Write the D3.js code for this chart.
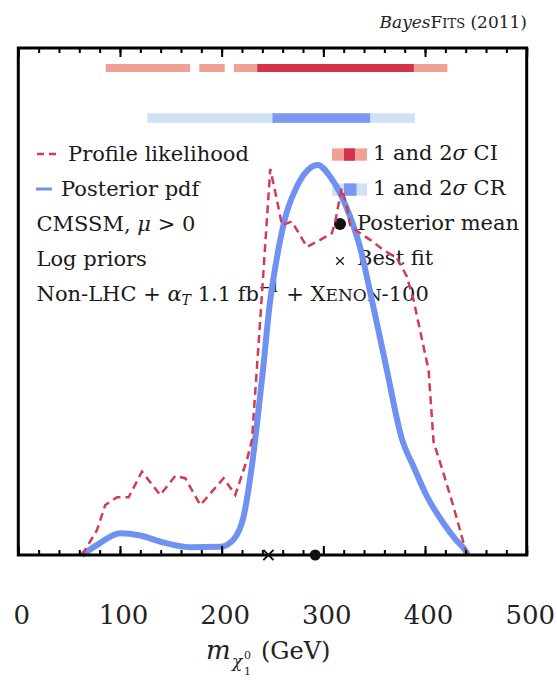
<!DOCTYPE html>
<html>
<head>
<meta charset="utf-8">
<script src="https://cdn.jsdelivr.net/npm/d3@7"></script>
<style>
  html, body { margin: 0; padding: 0; background: #fff; }
  svg { display: block; font-family: "DejaVu Serif", serif; }
</style>
</head>
<body>
<svg id="chart" width="557" height="684"></svg>
<script>
// Neutralino mass: posterior pdf and profile likelihood (CMSSM, log priors)
const xMajorTicks = [0, 100, 200, 300, 400, 500];
const xMinorTicks = d3.range(0, 501, 20);

// Posterior pdf (solid blue), normalised to its peak
const pdfMass = [62.6, 80, 100, 120, 140, 169, 198.6, 211.7, 221.5, 229.8, 234.5, 240.6, 247.8, 251, 257, 262.5, 272.4, 282, 294.3, 306.8, 316.6, 326.4, 336, 346, 362, 377, 389, 402, 418, 430, 440, 442];
const pdfValue = [0, 0.03, 0.056, 0.05, 0.034, 0.02, 0.021, 0.04, 0.098, 0.23, 0.33, 0.474, 0.654, 0.71, 0.8, 0.865, 0.936, 0.979, 1.0, 0.97, 0.927, 0.867, 0.79, 0.675, 0.48, 0.3, 0.225, 0.15, 0.082, 0.04, 0.01, 0];

// Profile likelihood (dashed red), normalised to its peak
const plMass = [62.6, 77.4, 85.5, 97, 108.5, 121.6, 139.6, 154.4, 164.2, 179, 201.9, 213.4, 224.9, 229.8, 239, 247.8, 254.4, 259.3, 269.1, 283.9, 296.9, 308.4, 311.7, 318, 323.2, 326.5, 336.3, 346.1, 359.2, 372.4, 382.2, 388.7, 403.5, 408.4, 418.2, 428, 441.2];
const plValue = [0, 0.064, 0.128, 0.148, 0.148, 0.214, 0.154, 0.203, 0.197, 0.128, 0.197, 0.154, 0.244, 0.295, 0.645, 0.99, 0.91, 0.846, 0.855, 0.79, 0.808, 0.825, 0.855, 0.94, 0.893, 0.842, 0.825, 0.808, 0.782, 0.761, 0.714, 0.654, 0.474, 0.29, 0.209, 0.124, 0];

// 1 and 2 sigma intervals (GeV)
const ci2Sigma = [[86, 169], [178, 203], [212, 422]];
const ci1Sigma = [[235, 389]];
const cr2Sigma = [[127, 390]];
const cr1Sigma = [[250, 346]];

// Point estimates (GeV)
const posteriorMean = 292;
const bestFit = 246;

const colors = {
  plLine: "#d43a50",
  pdfLine: "#6f92f2",
  ciLight: "#f0a196",
  ciDark: "#d1334b",
  crLight: "#cfe0f7",
  crDark: "#7a98f1"
};

const svg = d3.select("#chart");
const x = d3.scaleLinear().domain([0, 500]).range([18.3, 526.7]);
const y = d3.scaleLinear().domain([0, 1.3]).range([555, 48]);

// Title
const title = svg.append("text")
  .attr("x", 527).attr("y", 28)
  .attr("text-anchor", "end")
  .attr("font-size", 17)
  .attr("fill", "#222");
title.append("tspan").attr("font-style", "italic").text("Bayes");
title.append("tspan").text("F");
title.append("tspan").attr("font-size", 13).text("ITS");
title.append("tspan").text(" (2011)");

// Interval bars
function bars(intervals, yTop, h, color) {
  svg.append("g").selectAll("rect").data(intervals).join("rect")
    .attr("x", d => x(d[0]))
    .attr("width", d => x(d[1]) - x(d[0]))
    .attr("y", yTop).attr("height", h)
    .attr("fill", color);
}
bars(ci2Sigma, 64, 8, colors.ciLight);
bars(ci1Sigma, 64, 8, colors.ciDark);
bars(cr2Sigma, 113.3, 9.5, colors.crLight);
bars(cr1Sigma, 113.3, 9.5, colors.crDark);

// Legend text
const fs = 21;
const rows = [161, 196, 231, 266, 301];
const leg = svg.append("g").attr("font-size", fs).attr("fill", "#1a1a1a");

leg.append("line").attr("x1", 37).attr("x2", 57).attr("y1", rows[0] - 7).attr("y2", rows[0] - 7)
  .attr("stroke", colors.plLine).attr("stroke-width", 2.5).attr("stroke-dasharray", "7,5");
leg.append("text").attr("x", 68).attr("y", rows[0]).text("Profile likelihood");

leg.append("line").attr("x1", 36).attr("x2", 52).attr("y1", rows[1] - 7).attr("y2", rows[1] - 7)
  .attr("stroke", colors.pdfLine).attr("stroke-width", 3);
leg.append("text").attr("x", 61).attr("y", rows[1]).text("Posterior pdf");

const t3 = leg.append("text").attr("x", 36.5).attr("y", rows[2]);
t3.append("tspan").text("CMSSM, ");
t3.append("tspan").attr("font-style", "italic").text("μ");
t3.append("tspan").text(" > 0");

leg.append("text").attr("x", 36.5).attr("y", rows[3]).text("Log priors");

const t5 = leg.append("text").attr("x", 36.5).attr("y", rows[4]);
t5.append("tspan").text("Non-LHC + ");
t5.append("tspan").attr("font-style", "italic").text("α");
t5.append("tspan").attr("font-style", "italic").attr("font-size", 14).attr("dy", 4).text("T");
t5.append("tspan").attr("dy", -4).text(" 1.1 fb");
t5.append("tspan").attr("font-size", 14).attr("dy", -9).text("−1");
t5.append("tspan").attr("dy", 9).text(" + X");
t5.append("tspan").attr("font-size", 17).text("ENON");
t5.append("tspan").text("-100");

// Right legend: interval swatches
function swatch(yTop, light, dark, darkEnd) {
  leg.append("rect").attr("x", 332).attr("y", yTop).attr("width", 35).attr("height", 12.3).attr("fill", light);
  leg.append("rect").attr("x", 344).attr("y", yTop).attr("width", darkEnd - 344).attr("height", 12.3).attr("fill", dark);
}
swatch(148.4, colors.ciLight, colors.ciDark, 355);
swatch(183.4, colors.crLight, colors.crDark, 356.5);

function sigmaLabel(yy, suffix) {
  const t = leg.append("text").attr("x", 373).attr("y", yy);
  t.append("tspan").text("1 and 2");
  t.append("tspan").attr("font-style", "italic").text("σ");
  t.append("tspan").text(" " + suffix);
}
sigmaLabel(rows[0] - 1, "CI");
sigmaLabel(rows[1] - 1, "CR");
leg.append("text").attr("x", 357).attr("y", rows[2] - 1).text("Posterior mean");
leg.append("text").attr("x", 357).attr("y", rows[3] - 1).text("Best fit");

// Curves
const pdfData = pdfMass.map((m, i) => [m, pdfValue[i]]);
const plData = plMass.map((m, i) => [m, plValue[i]]);

svg.append("path")
  .datum(pdfData)
  .attr("fill", "none")
  .attr("stroke", colors.pdfLine)
  .attr("stroke-width", 6)
  .attr("stroke-linejoin", "round")
  .attr("d", d3.line().x(d => x(d[0])).y(d => y(d[1])).curve(d3.curveMonotoneX));

svg.append("path")
  .datum(plData)
  .attr("fill", "none")
  .attr("stroke", colors.plLine)
  .attr("stroke-width", 2.5)
  .attr("stroke-dasharray", "8,5")
  .attr("d", d3.line().x(d => x(d[0])).y(d => y(d[1])));

// Legend markers
leg.append("circle").attr("cx", 340).attr("cy", rows[2] - 7).attr("r", 6).attr("fill", "#111");
leg.append("path")
  .attr("d", d3.symbol(d3.symbolX, 40)())
  .attr("transform", `translate(340,${rows[3] - 5})`)
  .attr("stroke", "#222").attr("stroke-width", 1.3).attr("fill", "none");

// Axes: ticks point inward on top and bottom
const gBottomMinor = svg.append("g").attr("transform", "translate(0,555)")
  .call(d3.axisBottom(x).tickValues(xMinorTicks).tickSize(-5).tickFormat(""));
const gBottomMajor = svg.append("g").attr("transform", "translate(0,555)")
  .call(d3.axisBottom(x).tickValues(xMajorTicks).tickSize(-9).tickPadding(51));
const gTopMinor = svg.append("g").attr("transform", "translate(0,48)")
  .call(d3.axisTop(x).tickValues(xMinorTicks).tickSize(-5).tickFormat(""));
const gTopMajor = svg.append("g").attr("transform", "translate(0,48)")
  .call(d3.axisTop(x).tickValues(xMajorTicks).tickSize(-9).tickFormat(""));

[gBottomMinor, gBottomMajor, gTopMinor, gTopMajor].forEach(g => {
  g.select(".domain").remove();
  g.selectAll(".tick line").attr("stroke", "#000").attr("stroke-width", 2);
});
gBottomMajor.selectAll(".tick text")
  .attr("font-family", "DejaVu Serif, serif")
  .attr("font-size", 26)
  .attr("fill", "#222")
  .attr("dx", 3);

// Frame
svg.append("rect")
  .attr("x", x(0)).attr("y", y(1.3))
  .attr("width", x(500) - x(0)).attr("height", y(0) - y(1.3))
  .attr("fill", "none").attr("stroke", "#000").attr("stroke-width", 3);

// Point estimates on the axis
svg.append("path")
  .attr("d", d3.symbol(d3.symbolX, 70)())
  .attr("transform", `translate(${x(bestFit)},555)`)
  .attr("stroke", "#111").attr("stroke-width", 2).attr("fill", "none");
svg.append("circle").attr("cx", x(posteriorMean)).attr("cy", 555).attr("r", 5.5).attr("fill", "#111");

// Axis title: m_{chi_1^0} (GeV)
const xl = svg.append("g").attr("fill", "#222");
xl.append("text").attr("x", 206).attr("y", 659).attr("font-size", 26).attr("font-style", "italic").text("m");
xl.append("text").attr("x", 232).attr("y", 667).attr("font-size", 17).attr("font-style", "italic").text("χ");
xl.append("text").attr("x", 244).attr("y", 659).attr("font-size", 11).text("0");
xl.append("text").attr("x", 244).attr("y", 675).attr("font-size", 11).text("1");
xl.append("text").attr("x", 261).attr("y", 659).attr("font-size", 24).text("(GeV)");
</script>
</body>
</html>
